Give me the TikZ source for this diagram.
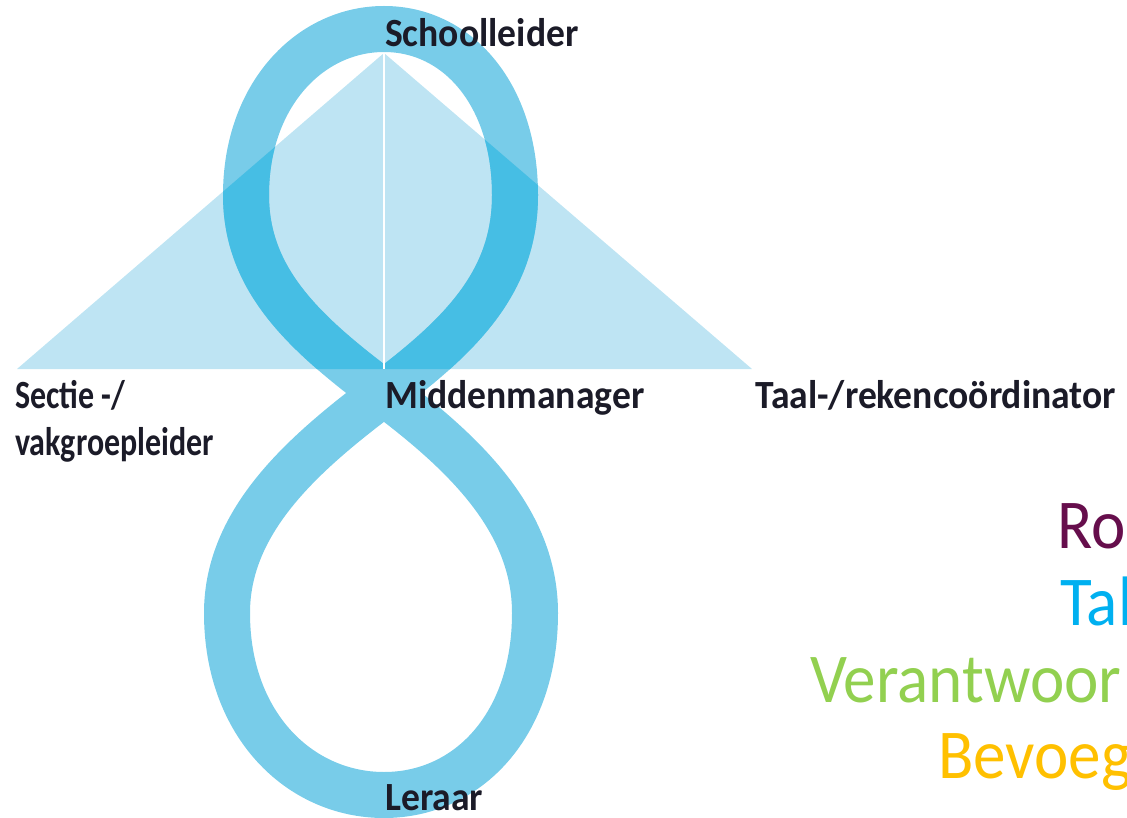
\documentclass[tikz,border=0pt]{standalone}
\usepackage{fontspec}
\newfontfamily\lblfont[FakeStretch=0.94]{Carlito}
\newfontfamily\bigfont[FakeStretch=0.93]{Carlito}
\definecolor{ringc}{HTML}{78CCE9}
\definecolor{ringdark}{HTML}{46BEE4}
\definecolor{tric}{HTML}{BEE4F3}
\definecolor{labelc}{HTML}{1B1B28}
\definecolor{rolc}{HTML}{660E4C}
\definecolor{takc}{HTML}{00B0F0}
\definecolor{verc}{HTML}{92D050}
\definecolor{bevc}{HTML}{FFC000}
\tikzset{
  ringstroke/.style={line width=46pt, line join=round},
  lbl/.style={anchor=base west, inner sep=0pt, text=labelc, font=\lblfont\bfseries\fontsize{40}{48}\selectfont},
  big/.style={anchor=base west, inner sep=0pt, font=\bigfont\fontsize{70}{80}\selectfont},
}
\newcommand{\narrowtext}[1]{\scalebox{0.85}[1]{#1}}
\def\ringpath{(384,393) .. controls (304,333) and (246,280) .. (246,195)
  .. controls (246,95) and (310,29) .. (384,29)
  .. controls (458,29) and (515,95) .. (515,195)
  .. controls (515,280) and (464,333) .. (384,393)
  .. controls (304,453) and (227,520) .. (227,613)
  .. controls (227,725) and (300,795) .. (384,795)
  .. controls (468,795) and (535,725) .. (535,613)
  .. controls (535,520) and (464,453) .. (384,393) -- cycle}
\begin{document}
\begin{tikzpicture}[x=1pt,y=-1pt]
\useasboundingbox (0,0) rectangle (1127,818);
\clip (0,0) rectangle (1127,818);
\coordinate (apex) at (384,53);
\coordinate (bl) at (17,369);
\coordinate (bm) at (384,369);
\coordinate (br) at (752,369);
% triangles
\fill[tric] (apex) -- (bl) -- (br) -- cycle;
% figure eight
\draw[ringstroke, ringc] \ringpath;
\begin{scope}
  \clip (apex) -- (bl) -- (br) -- cycle;
  \draw[ringstroke, ringdark] \ringpath;
\end{scope}
\draw[white, line width=2pt] (apex) -- (bm);
% labels
\node[lbl] (school) at (385,47) {Schoolleider};
\node[lbl] (midden) at (385,408) {Middenmanager};
\node[lbl] (sectie) at (15,408) {\narrowtext{Sectie -/}};
\node[lbl] (vakgroep) at (15,455) {\narrowtext{vakgroepleider}};
\node[lbl] (taal) at (755,408) {Taal-/rekencoördinator};
\node[lbl] (leraar) at (385,810) {Leraar};
% coloured words
\node[big, text=rolc] (ro) at (1057,548) {Ro};
\node[big, text=takc] (tal) at (1060,625) {Tal};
\node[big, text=verc] (ver) at (810,702) {Verantwoor};
\node[big, text=bevc] (bev) at (938,778) {Bevoeg};
\end{tikzpicture}
\end{document}
